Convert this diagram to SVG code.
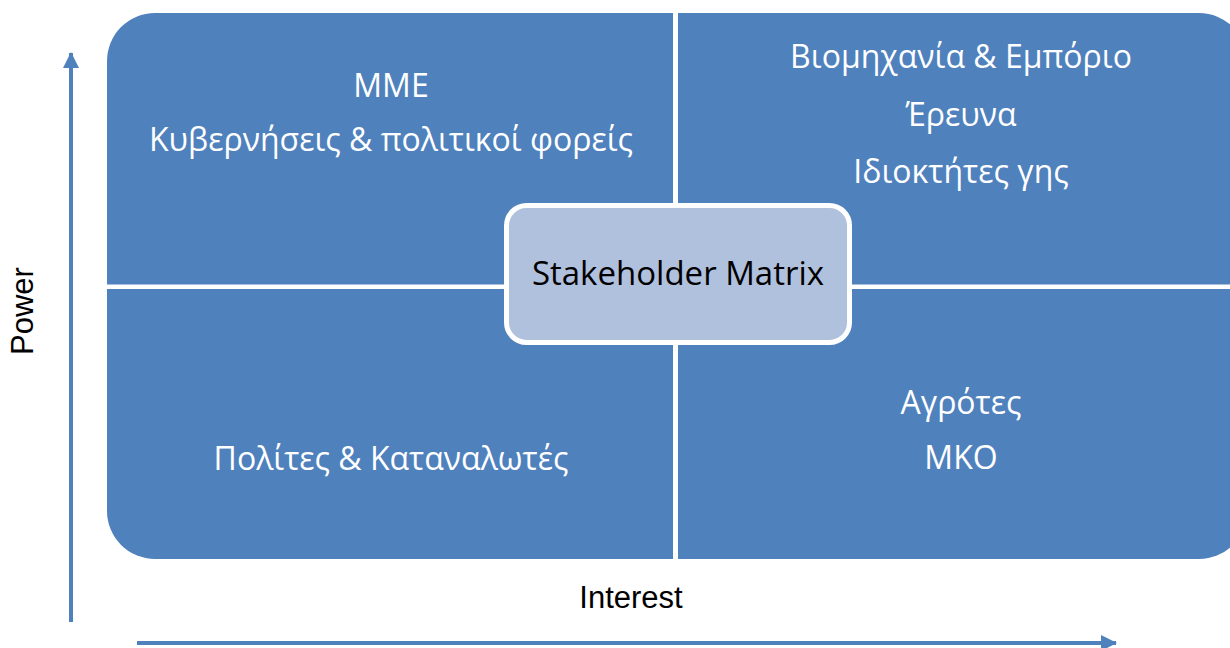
<svg xmlns="http://www.w3.org/2000/svg" width="1230" height="648" viewBox="0 0 1230 648">
<style>
.q{font-family:"Open Sans","Noto Sans","DejaVu Sans",sans-serif;font-size:32px;fill:#ffffff;text-anchor:middle}
.c{font-family:"Open Sans","Noto Sans",sans-serif;font-size:33px;fill:#000000;text-anchor:middle}
.ax{font-family:"Liberation Sans",Arial,sans-serif;font-size:31px;fill:#000000;text-anchor:middle}
.arrow{stroke:#4F81BD;stroke-width:4;fill:none}
</style>
<defs>
<marker id="ah" viewBox="0 0 16 16" refX="15" refY="8" markerWidth="16" markerHeight="16" markerUnits="userSpaceOnUse" orient="auto">
<path d="M0,0 L16,8 L0,16 Z" fill="#4F81BD"/>
</marker>
</defs>
<g id="matrix">
<rect x="107" y="13" width="1140" height="546" rx="48" ry="48" fill="#4F81BD"/>
<rect x="673" y="13" width="5" height="546" fill="#ffffff"/>
<rect x="107" y="284.5" width="1140" height="4.5" fill="#ffffff"/>
</g>
<g id="q-top-left">
<text class="q" x="391" y="97">ΜΜΕ</text>
<text class="q" x="391" y="151">Κυβερνήσεις &amp; πολιτικοί φορείς</text>
</g>
<g id="q-top-right">
<text class="q" x="961" y="68">Βιομηχανία &amp; Εμπόριο</text>
<text class="q" x="961" y="126">Έρευνα</text>
<text class="q" x="961" y="183">Ιδιοκτήτες γης</text>
</g>
<g id="q-bottom-left">
<text class="q" x="391" y="470">Πολίτες &amp; Καταναλωτές</text>
</g>
<g id="q-bottom-right">
<text class="q" x="961" y="414">Αγρότες</text>
<text class="q" x="961" y="469">ΜΚΟ</text>
</g>
<g id="center">
<rect x="506.5" y="205.5" width="343" height="137" rx="20" ry="20" fill="#B0C1DD" stroke="#ffffff" stroke-width="5"/>
<text class="c" x="678" y="285">Stakeholder Matrix</text>
</g>
<g id="connectors">
<line class="arrow" x1="71" y1="622" x2="71" y2="53" marker-end="url(#ah)"/>
<line class="arrow" x1="137" y1="643" x2="1116" y2="643" marker-end="url(#ah)"/>
</g>
<g id="labels">
<text class="ax" x="631" y="608">Interest</text>
<text class="ax" transform="translate(33,311) rotate(-90)" x="0" y="0">Power</text>
</g>
</svg>
